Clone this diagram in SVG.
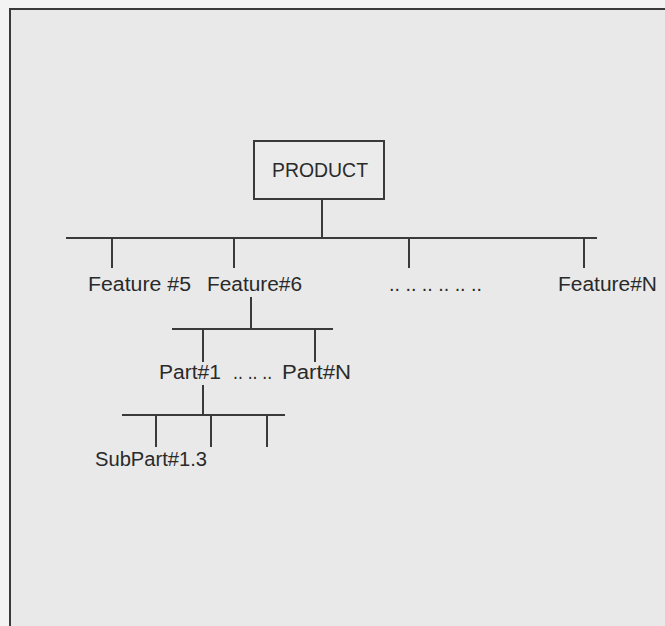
<svg xmlns="http://www.w3.org/2000/svg" width="665" height="626" viewBox="0 0 665 626">
  <style>
    .ln { stroke: #3a3a3a; stroke-width: 2; fill: none; }
    .box { stroke: #3a3a3a; stroke-width: 2; fill: #ebebeb; }
    .lbl { font-family: "Liberation Sans", Arial, sans-serif; font-size: 20px; fill: #2a2a2a; }
  </style>
  <!-- page and frame -->
  <rect x="0" y="0" width="665" height="626" fill="#f3f3f3"/>
  <rect x="10" y="9" width="660" height="630" fill="#e9e9e9"/>
  <path class="ln" d="M10,640 V9 H670" stroke-width="2.5"/>

  <!-- connectors -->
  <g id="connectors">
    <!-- product to features -->
    <path class="ln" d="M322,199 V238"/>
    <path class="ln" d="M66,238 H597"/>
    <path class="ln" d="M112,238 V268 M234,238 V268 M409,238 V268 M584,238 V268"/>
    <!-- feature 6 to parts -->
    <path class="ln" d="M251,297 V329"/>
    <path class="ln" d="M172,329 H333"/>
    <path class="ln" d="M203,329 V362 M315,329 V362"/>
    <!-- part 1 to subparts -->
    <path class="ln" d="M203,385 V415"/>
    <path class="ln" d="M122,415 H285"/>
    <path class="ln" d="M156,415 V447 M211,415 V447 M267,415 V447"/>
  </g>

  <g id="product">
    <rect class="box" x="254" y="141" width="130" height="58"/>
    <text class="lbl" x="272" y="177" textLength="96" lengthAdjust="spacingAndGlyphs">PRODUCT</text>
  </g>

  <g id="feature5">
    <text class="lbl" x="88" y="291" textLength="103" lengthAdjust="spacingAndGlyphs">Feature #5</text>
  </g>
  <g id="feature6">
    <text class="lbl" x="207" y="291" textLength="95" lengthAdjust="spacingAndGlyphs">Feature#6</text>
  </g>
  <g id="feature-more">
    <text class="lbl" x="389" y="291" textLength="93" lengthAdjust="spacingAndGlyphs">..  .. .. .. .. ..</text>
  </g>
  <g id="featureN">
    <text class="lbl" x="558" y="291" textLength="99" lengthAdjust="spacingAndGlyphs">Feature#N</text>
  </g>

  <g id="parts">
    <text class="lbl" x="159" y="379" textLength="62" lengthAdjust="spacingAndGlyphs">Part#1</text>
    <text class="lbl" x="233" y="379" textLength="39" lengthAdjust="spacingAndGlyphs">.. .. ..</text>
    <text class="lbl" x="282" y="379" textLength="69" lengthAdjust="spacingAndGlyphs">Part#N</text>
  </g>

  <g id="subpart13">
    <text class="lbl" x="95" y="466" textLength="112" lengthAdjust="spacingAndGlyphs">SubPart#1.3</text>
  </g>
</svg>
